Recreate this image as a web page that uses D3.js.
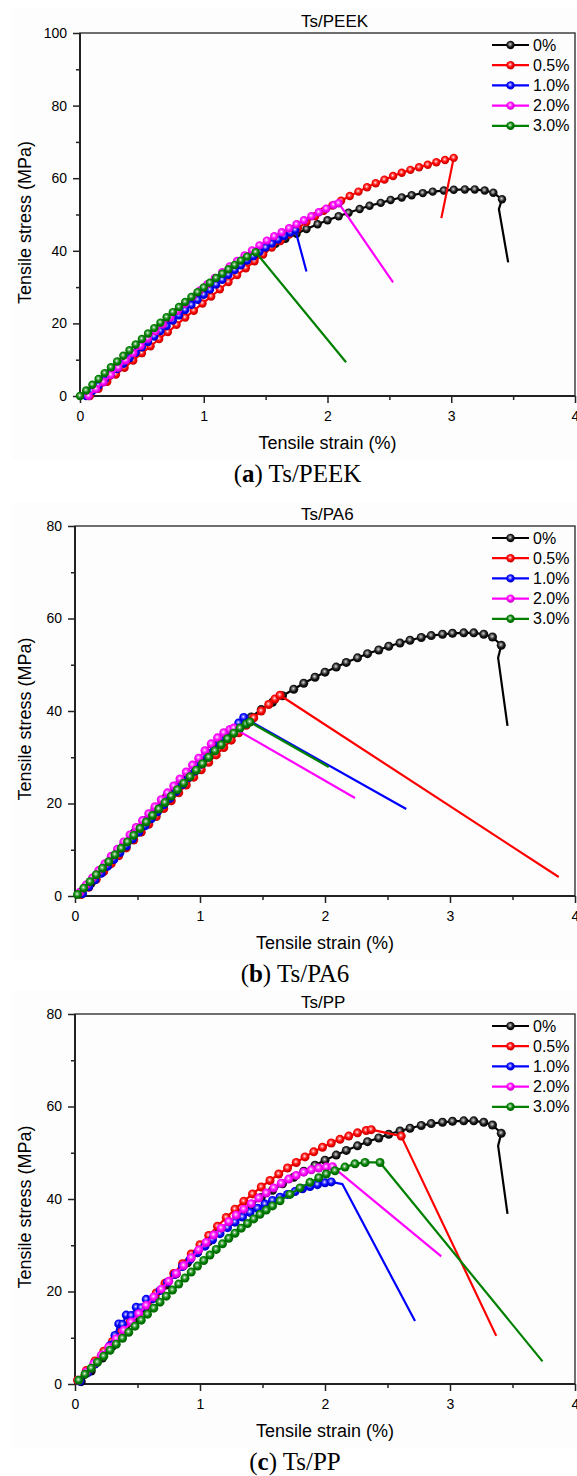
<!DOCTYPE html>
<html>
<head>
<meta charset="utf-8">
<script src="https://cdn.jsdelivr.net/npm/d3@7"></script>
<style>
  body { margin: 0; background: #fff; }
  svg text { font-family: Arial, "Liberation Sans", sans-serif; fill: #000; }
</style>
</head>
<body>
<script>
// legend labels and colours (drawing order)
const seriesNames = ["0%", "0.5%", "1.0%", "2.0%", "3.0%"];
const seriesColors = ["#000000", "#ff0000", "#0000ff", "#ff00ff", "#008000"];

const xTicks = [0, 1, 2, 3, 4];
const xMinor = [0.5, 1.5, 2.5, 3.5];

// [strain %, stress MPa] - points with symbols, then the fracture tail (line only)
// neat resin, same curve in all three panels
const neatPts = [[0.05,0.5],[0.13,2.8],[0.22,5.6],[0.30,8.2],[0.39,11.0],[0.47,13.6],[0.56,16.3],[0.64,18.8],[0.73,21.4],[0.81,23.8],[0.90,26.2],[0.98,28.4],[1.07,30.8],[1.15,32.9],[1.24,35.0],[1.32,36.9],[1.41,38.7],[1.49,40.3],[1.58,41.9],[1.66,43.3],[1.75,44.7],[1.83,46.0],[1.92,47.3],[2.00,48.4],[2.09,49.5],[2.17,50.5],[2.26,51.5],[2.34,52.4],[2.43,53.2],[2.51,54.0],[2.60,54.7],[2.68,55.3],[2.77,55.9],[2.85,56.3],[2.94,56.6],[3.02,56.8],[3.11,56.9],[3.19,56.9],[3.27,56.6],[3.34,56.0],[3.41,54.2]];
const neatTail = [[3.385,51.5],[3.46,36.8]];

// Ts/PEEK
const peek05 = [[0.08,0],[0.15,2.0],[0.22,3.9],[0.29,5.9],[0.36,7.8],[0.43,9.8],[0.50,11.8],[0.57,13.7],[0.64,15.7],[0.71,17.6],[0.78,19.6],[0.85,21.6],[0.92,23.5],[0.99,25.5],[1.06,27.4],[1.13,29.4],[1.20,31.4],[1.27,33.3],[1.34,35.2],[1.41,37.1],[1.48,39.0],[1.55,40.9],[1.62,42.7],[1.69,44.5],[1.76,46.2],[1.83,47.9],[1.90,49.5],[1.97,51.0],[2.04,52.5],[2.11,53.8],[2.18,55.1],[2.25,56.3],[2.32,57.5],[2.39,58.6],[2.46,59.6],[2.53,60.6],[2.60,61.5],[2.67,62.3],[2.74,63.0],[2.81,63.7],[2.88,64.4],[2.95,65.0],[3.02,65.6]];
const peek05Tail = [[2.92,49.0]];
const peek10 = [[0.05,0],[0.10,1.4],[0.15,2.9],[0.20,4.4],[0.25,5.9],[0.30,7.4],[0.35,8.9],[0.40,10.4],[0.45,11.9],[0.50,13.4],[0.55,14.9],[0.60,16.4],[0.65,17.9],[0.70,19.3],[0.75,20.8],[0.80,22.2],[0.85,23.7],[0.90,25.1],[0.95,26.5],[1.00,27.9],[1.05,29.3],[1.10,30.7],[1.15,32.0],[1.20,33.4],[1.25,34.7],[1.30,36.0],[1.35,37.3],[1.40,38.5],[1.45,39.7],[1.50,40.9],[1.55,42.0],[1.60,43.1],[1.65,44.1],[1.70,45.0],[1.74,45.7]];
const peek10Tail = [[1.83,34.3]];
const peek20 = [[0.07,0],[0.13,1.9],[0.19,3.8],[0.25,5.8],[0.31,7.8],[0.37,9.8],[0.43,11.8],[0.49,13.8],[0.55,15.8],[0.61,17.8],[0.67,19.7],[0.73,21.6],[0.79,23.5],[0.85,25.4],[0.91,27.3],[0.97,29.1],[1.03,30.8],[1.09,32.5],[1.15,34.1],[1.21,35.7],[1.27,37.2],[1.33,38.7],[1.39,40.1],[1.45,41.5],[1.51,42.8],[1.57,44.0],[1.63,45.1],[1.69,46.2],[1.75,47.3],[1.81,48.4],[1.87,49.5],[1.93,50.6],[1.99,51.6],[2.05,52.6],[2.09,53.1]];
const peek20Tail = [[2.53,31.3]];
const peek30 = [[0.00,0],[0.05,1.5],[0.10,3.1],[0.15,4.7],[0.20,6.3],[0.25,7.9],[0.30,9.5],[0.35,11.1],[0.40,12.6],[0.45,14.2],[0.50,15.7],[0.55,17.2],[0.60,18.7],[0.65,20.2],[0.70,21.7],[0.75,23.1],[0.80,24.5],[0.85,25.9],[0.90,27.3],[0.95,28.6],[1.00,29.9],[1.05,31.2],[1.10,32.5],[1.15,33.7],[1.20,34.9],[1.25,36.1],[1.30,37.3],[1.35,38.4],[1.42,39.6]];
const peek30Tail = [[2.15,9.3]];

// Ts/PA6
const pa605 = [[0.05,0.3],[0.11,1.9],[0.17,3.6],[0.23,5.3],[0.29,7.0],[0.35,8.7],[0.41,10.4],[0.47,12.1],[0.53,13.8],[0.59,15.5],[0.65,17.2],[0.71,18.9],[0.77,20.6],[0.83,22.3],[0.89,24.0],[0.95,25.7],[1.01,27.3],[1.07,28.9],[1.13,30.5],[1.19,32.1],[1.25,33.7],[1.31,35.3],[1.37,36.9],[1.43,38.5],[1.49,40.0],[1.55,41.4],[1.60,42.6],[1.64,43.4]];
const pa605Tail = [[3.87,4.1]];
const pa610 = [[0.06,0.5],[0.11,2.0],[0.16,3.5],[0.21,4.9],[0.26,6.4],[0.31,7.9],[0.36,9.4],[0.41,10.8],[0.46,12.3],[0.51,13.8],[0.56,15.2],[0.61,16.7],[0.66,18.2],[0.71,19.7],[0.76,21.1],[0.81,22.6],[0.86,24.1],[0.91,25.6],[0.96,27.0],[1.01,28.5],[1.06,30.0],[1.11,31.5],[1.16,33.0],[1.21,34.5],[1.26,36.0],[1.31,37.4],[1.35,38.6]];
const pa610Tail = [[2.65,18.8]];
const pa620 = [[0.04,0.8],[0.09,2.4],[0.14,3.9],[0.19,5.5],[0.24,7.0],[0.29,8.6],[0.34,10.1],[0.39,11.7],[0.44,13.2],[0.49,14.8],[0.54,16.3],[0.59,17.8],[0.64,19.3],[0.69,20.8],[0.74,22.3],[0.79,23.8],[0.84,25.3],[0.89,26.8],[0.94,28.3],[0.99,29.8],[1.04,31.4],[1.09,32.9],[1.14,34.2],[1.19,35.3],[1.24,36.0],[1.27,36.3]];
const pa620Tail = [[2.24,21.2]];
const pa630 = [[0.02,0.3],[0.07,1.7],[0.12,3.1],[0.17,4.6],[0.22,6.0],[0.27,7.4],[0.32,8.9],[0.37,10.3],[0.42,11.7],[0.47,13.1],[0.52,14.6],[0.57,16.0],[0.62,17.4],[0.67,18.8],[0.72,20.2],[0.77,21.6],[0.82,23.0],[0.87,24.4],[0.92,25.8],[0.97,27.2],[1.02,28.6],[1.07,30.0],[1.12,31.4],[1.17,32.7],[1.22,34.0],[1.27,35.2],[1.32,36.3],[1.37,37.2],[1.40,37.6]];
const pa630Tail = [[2.03,27.9]];

// Ts/PP
const pp05 = [[0.02,0.8],[0.09,2.9],[0.16,5.0],[0.23,7.1],[0.30,9.2],[0.37,11.3],[0.44,13.4],[0.51,15.5],[0.58,17.6],[0.65,19.7],[0.72,21.8],[0.79,23.9],[0.86,26.0],[0.93,28.1],[1.00,30.1],[1.07,32.1],[1.14,34.1],[1.21,36.0],[1.28,37.8],[1.35,39.5],[1.42,41.1],[1.49,42.6],[1.56,44.0],[1.63,45.4],[1.70,46.7],[1.77,47.9],[1.84,49.1],[1.91,50.2],[1.98,51.2],[2.05,52.1],[2.12,52.9],[2.19,53.6],[2.26,54.3],[2.33,54.8],[2.37,55.0],[2.61,53.6]];
const pp05Tail = [[3.37,10.4]];
const pp10 = [[0.04,0.6],[0.10,2.4],[0.16,4.3],[0.22,6.2],[0.28,8.3],[0.32,10.5],[0.35,13.0],[0.38,12.9],[0.41,14.9],[0.45,14.8],[0.49,16.6],[0.53,16.5],[0.57,18.3],[0.62,18.4],[0.68,20.2],[0.74,22.0],[0.80,23.7],[0.86,25.4],[0.92,26.9],[0.98,28.4],[1.04,29.8],[1.10,31.2],[1.16,32.5],[1.22,33.8],[1.28,35.0],[1.34,36.1],[1.40,37.1],[1.46,38.0],[1.52,38.9],[1.58,39.7],[1.64,40.4],[1.70,41.0],[1.76,41.6],[1.82,42.2],[1.88,42.7],[1.94,43.1],[2.00,43.5],[2.05,43.7]];
const pp10Tail = [[2.14,43.2],[2.72,13.6]];
const pp20 = [[0.03,0.8],[0.09,2.6],[0.15,4.4],[0.21,6.2],[0.27,8.0],[0.33,9.8],[0.39,11.6],[0.45,13.4],[0.51,15.2],[0.57,17.0],[0.63,18.8],[0.69,20.5],[0.75,22.2],[0.81,23.9],[0.87,25.6],[0.93,27.3],[0.99,29.0],[1.05,30.6],[1.11,32.2],[1.17,33.7],[1.23,35.1],[1.29,36.5],[1.35,37.8],[1.41,39.0],[1.47,40.2],[1.53,41.3],[1.59,42.4],[1.65,43.4],[1.71,44.3],[1.77,45.1],[1.83,45.8],[1.89,46.3],[1.95,46.7],[2.01,46.9],[2.06,47.0]];
const pp20Tail = [[2.93,27.6]];
const pp30 = [[0.03,0.8],[0.08,2.1],[0.13,3.4],[0.18,4.7],[0.23,6.0],[0.28,7.3],[0.33,8.6],[0.38,9.9],[0.43,11.2],[0.48,12.5],[0.53,13.8],[0.58,15.1],[0.63,16.4],[0.68,17.7],[0.73,19.0],[0.78,20.3],[0.83,21.6],[0.88,22.9],[0.93,24.2],[0.98,25.5],[1.03,26.7],[1.08,27.9],[1.13,29.1],[1.18,30.3],[1.23,31.5],[1.28,32.6],[1.33,33.7],[1.38,34.7],[1.43,35.7],[1.48,36.7],[1.53,37.6],[1.58,38.5],[1.64,39.6],[1.72,41.0],[1.80,42.4],[1.88,43.6],[1.95,44.6],[2.01,45.4],[2.08,46.1],[2.16,46.9],[2.24,47.6],[2.32,47.9],[2.44,47.9]];
const pp30Tail = [[3.74,4.9]];

const panels = [
  { title: "Ts/PEEK", letter: "a", left: 80, right: 575, top: 33, bottom: 396, yMax: 100, r: 4.2,
    yTicks: [0, 20, 40, 60, 80, 100], yMinor: [10, 30, 50, 70, 90],
    series: [[neatPts, neatTail], [peek05, peek05Tail], [peek10, peek10Tail], [peek20, peek20Tail], [peek30, peek30Tail]] },
  { title: "Ts/PA6", letter: "b", left: 75, right: 575, top: 526, bottom: 896, yMax: 80, r: 4.5,
    yTicks: [0, 20, 40, 60, 80], yMinor: [10, 30, 50, 70],
    series: [[neatPts, neatTail], [pa605, pa605Tail], [pa610, pa610Tail], [pa620, pa620Tail], [pa630, pa630Tail]] },
  { title: "Ts/PP", letter: "c", left: 75, right: 575, top: 1014, bottom: 1384, yMax: 80, r: 4.5,
    yTicks: [0, 20, 40, 60, 80], yMinor: [10, 30, 50, 70],
    series: [[neatPts, neatTail], [pp05, pp05Tail], [pp10, pp10Tail], [pp20, pp20Tail], [pp30, pp30Tail]] }
];

const svg = d3.select("body").append("svg")
  .attr("width", 577).attr("height", 1476);

// sphere-like symbol fills
const defs = svg.append("defs");
seriesColors.forEach((c, i) => {
  const grad = defs.append("radialGradient").attr("id", "ball" + i)
    .attr("cx", "0.45").attr("cy", "0.42").attr("r", "0.6");
  const base = d3.color(c);
  const light = i == 0 ? "#d8d8d8" : "#ffffff";
  grad.append("stop").attr("offset", "0%").attr("stop-color", light);
  grad.append("stop").attr("offset", "22%").attr("stop-color", i == 0 ? "#888" : d3.interpolateRgb(c, "#fff")(0.45));
  grad.append("stop").attr("offset", "55%").attr("stop-color", i == 0 ? "#1a1a1a" : c);
  grad.append("stop").attr("offset", "100%").attr("stop-color", base.darker(0.9));
});

const line = d3.line();

panels.forEach(p => {
  const x = d3.scaleLinear().domain([0, 4]).range([p.left, p.right]);
  const y = d3.scaleLinear().domain([0, p.yMax]).range([p.bottom, p.top]);
  const g = svg.append("g");

  g.append("rect")
    .attr("x", 12).attr("y", p.top - 24)
    .attr("width", 565).attr("height", p.bottom - p.top + 88)
    .attr("fill", "#fdfdfd");

  // ticks
  const styleAxis = sel => {
    sel.select(".domain").remove();
    sel.selectAll("line").attr("stroke", "#222").attr("stroke-width", 1.5);
    sel.selectAll("text").attr("font-size", 14).attr("fill", "#000");
  };
  g.append("g").attr("transform", `translate(0,${p.bottom})`)
    .call(d3.axisBottom(x).tickValues(xTicks).tickFormat(d3.format("d")).tickSize(7).tickPadding(8))
    .call(styleAxis);
  g.append("g").attr("transform", `translate(0,${p.bottom})`)
    .call(d3.axisBottom(x).tickValues(xMinor).tickFormat("").tickSize(4))
    .call(styleAxis);
  g.append("g").attr("transform", `translate(${p.left},0)`)
    .call(d3.axisLeft(y).tickValues(p.yTicks).tickFormat(d3.format("d")).tickSize(7).tickPadding(6))
    .call(styleAxis);
  g.append("g").attr("transform", `translate(${p.left},0)`)
    .call(d3.axisLeft(y).tickValues(p.yMinor).tickFormat("").tickSize(4))
    .call(styleAxis);

  // frame
  g.append("rect")
    .attr("x", p.left).attr("y", p.top)
    .attr("width", p.right - p.left).attr("height", p.bottom - p.top)
    .attr("fill", "none").attr("stroke", "#333").attr("stroke-width", 1.4);
  g.append("path")
    .attr("d", `M${p.left},${p.top}V${p.bottom}H${p.right}`)
    .attr("fill", "none").attr("stroke", "#222").attr("stroke-width", 2);

  // curves
  p.series.forEach((s, i) => {
    const pts = s[0], tail = s[1];
    g.append("path")
      .attr("d", line(pts.concat(tail).map(d => [x(d[0]), y(d[1])])))
      .attr("fill", "none")
      .attr("stroke", seriesColors[i])
      .attr("stroke-width", 2.2)
      .attr("stroke-linejoin", "round");
    g.selectAll(null).data(pts).enter().append("circle")
      .attr("cx", d => x(d[0]))
      .attr("cy", d => y(d[1]))
      .attr("r", p.r)
      .attr("fill", `url(#ball${i})`);
  });

  // legend
  seriesNames.forEach((name, i) => {
    const ly = p.top + 12 + i * 20.2;
    g.append("line")
      .attr("x1", 492).attr("x2", 529).attr("y1", ly).attr("y2", ly)
      .attr("stroke", seriesColors[i]).attr("stroke-width", 2.2);
    g.append("circle")
      .attr("cx", 510.5).attr("cy", ly).attr("r", 4.2)
      .attr("fill", `url(#ball${i})`);
    g.append("text")
      .attr("x", 533).attr("y", ly)
      .attr("dominant-baseline", "central")
      .attr("font-size", 16)
      .text(name);
  });

  // titles
  g.append("text")
    .attr("x", 301).attr("y", p.top - 12)
    .attr("dominant-baseline", "central")
    .attr("font-size", 17)
    .text(p.title);

  g.append("text")
    .attr("x", (p.left + p.right) / 2).attr("y", p.bottom + 47)
    .attr("text-anchor", "middle")
    .attr("dominant-baseline", "central")
    .attr("font-size", 18)
    .text("Tensile strain (%)");

  g.append("text")
    .attr("transform", `translate(25,${(p.top + p.bottom) / 2 + 8}) rotate(-90)`)
    .attr("text-anchor", "middle")
    .attr("dominant-baseline", "central")
    .attr("font-size", 18)
    .text("Tensile stress (MPa)");

  const cap = svg.append("text")
    .attr("x", (p.left + p.right) / 2 - 30).attr("y", p.bottom + 86)
    .attr("text-anchor", "middle")
    .attr("font-size", 25)
    .style("font-family", "'Liberation Serif', 'DejaVu Serif', serif")
    .attr("fill", "#000");
  cap.append("tspan").text("(");
  cap.append("tspan").attr("font-weight", "bold").text(p.letter);
  cap.append("tspan").text(") Ts/" + p.title.split("/")[1]);
});
</script>
</body>
</html>
